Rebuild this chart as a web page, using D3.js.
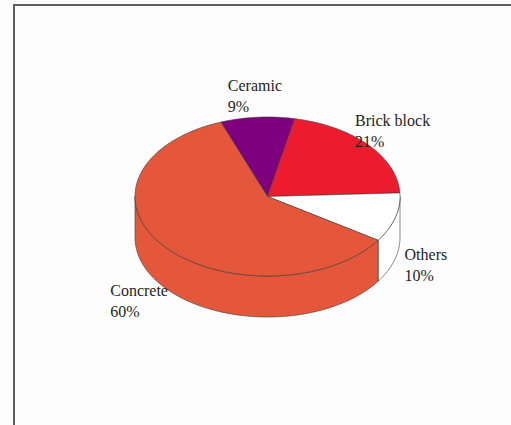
<!DOCTYPE html>
<html>
<head>
<meta charset="utf-8">
<script src="https://cdn.jsdelivr.net/npm/d3@7"></script>
<style>
  html, body { margin: 0; padding: 0; background: #fdfdfd; }
  svg { display: block; }
</style>
</head>
<body>
<svg id="chart" width="511" height="425"></svg>
<script>
// ---- data ----
const categories = ["Ceramic", "Brick block", "Others", "Concrete"];
const values = [9, 21, 10, 60];
const percentLabels = ["9%", "21%", "10%", "60%"];
const colors = ["#7f007f", "#ec1c2e", "#ffffff", "#e4573a"];

// ---- layout ----
const W = 511, H = 425;
const cx = 267.5, cy = 196.5;
const rx = 132.5, ry = 79.5, depth = 41;
const startAngle = -20.6 * Math.PI / 180;

const svg = d3.select("#chart");

// frame
svg.append("rect")
  .attr("x", 14).attr("y", 5)
  .attr("width", W + 20).attr("height", H + 20)
  .attr("fill", "#fdfdfd")
  .attr("stroke", "#5e5e5e")
  .attr("stroke-width", 2);

const pie = d3.pie().sort(null).value(d => d)
  .startAngle(startAngle).endAngle(startAngle + 2 * Math.PI);
const arcs = pie(values);

const px = a => cx + rx * Math.sin(a);
const py = (a, dz) => cy - ry * Math.cos(a) + (dz || 0);
const line = d3.line();

function sample(a0, a1, n) {
  const pts = [];
  for (let i = 0; i <= n; i++) pts.push(a0 + (a1 - a0) * i / n);
  return pts;
}

// ---- sides (front half: angles between PI/2 and 3PI/2) ----
const frontA = Math.PI / 2, frontB = 3 * Math.PI / 2;
const sideG = svg.append("g");
arcs.forEach((d, i) => {
  const a0 = Math.max(d.startAngle, frontA);
  const a1 = Math.min(d.endAngle, frontB);
  if (a1 <= a0) return;
  const n = Math.max(4, Math.ceil((a1 - a0) / 0.02));
  const topPts = sample(a0, a1, n).map(a => [px(a), py(a, 0)]);
  const botPts = sample(a1, a0, n).map(a => [px(a), py(a, depth)]);
  sideG.append("path")
    .attr("d", line(topPts.concat(botPts)) + "Z")
    .attr("fill", colors[i])
    .attr("stroke", "#3a3a3a")
    .attr("stroke-width", 0.6)
    .attr("stroke-linejoin", "round");
});

// ---- top slices ----
const topG = svg.append("g");
arcs.forEach((d, i) => {
  const n = Math.max(4, Math.ceil((d.endAngle - d.startAngle) / 0.02));
  const pts = [[cx, cy]].concat(sample(d.startAngle, d.endAngle, n).map(a => [px(a), py(a, 0)]));
  topG.append("path")
    .attr("d", line(pts) + "Z")
    .attr("fill", colors[i])
    .attr("stroke", "#3a3a3a")
    .attr("stroke-width", 0.6)
    .attr("stroke-linejoin", "round");
});

// ---- labels ----
const labG = svg.append("g")
  .attr("font-family", "'Liberation Serif', 'Times New Roman', serif")
  .attr("font-size", 16)
  .attr("fill", "#1e1e1e");
arcs.forEach((d, i) => {
  const m = (d.startAngle + d.endAngle) / 2;
  const lx = cx + 1.24 * rx * Math.sin(m);
  const ly = cy - 1.27 * ry * Math.cos(m) + (Math.cos(m) < 0 ? depth : 0);
  const t = labG.append("text");
  const t1 = t.append("tspan").attr("y", ly - 4.8).text(categories[i]);
  const t2 = t.append("tspan").attr("y", ly + 16.2).text(percentLabels[i]);
  const w = Math.max(t1.node().getComputedTextLength(), t2.node().getComputedTextLength());
  t1.attr("x", lx - w / 2);
  t2.attr("x", lx - w / 2);
});
</script>
</body>
</html>
